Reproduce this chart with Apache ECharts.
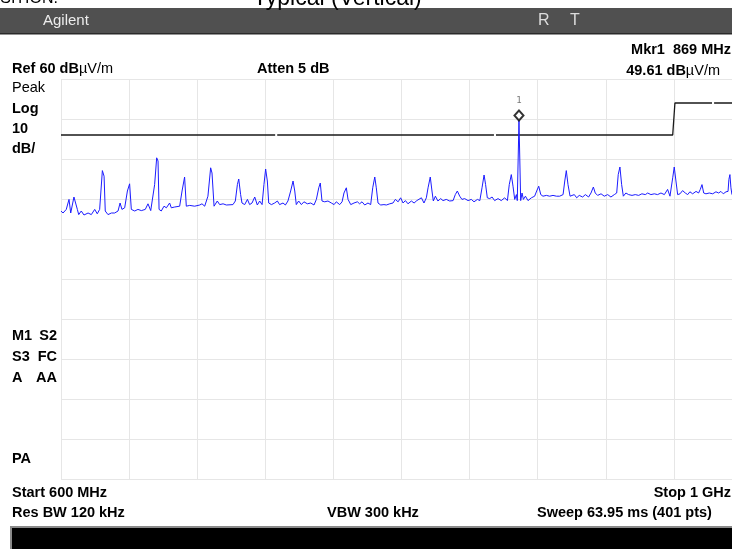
<!DOCTYPE html>
<html><head><meta charset="utf-8">
<script src="https://cdn.jsdelivr.net/npm/echarts@6/dist/echarts.min.js"></script>
<style>html,body{margin:0;padding:0;background:#fff;overflow:hidden}#c{width:732px;height:549px}</style>
</head><body><div id="c"></div>
<script>
// Frequency span (MHz) and amplitude scale (dBµV/m)
const startMHz = 600, stopMHz = 1000, freqStep = 40;
const refLevel = 60, bottomLevel = -40, dbPerDiv = 10;

// Measured trace: [frequency MHz, level dBµV/m]
const trace = [
[600,27.0],[601.2,26.5],[603.1,27.4],[604.7,29.9],[605.7,26.5],[606.5,26.1],[607.6,30.5],[608.4,30.7],[609.6,27.4],[610.4,26.1],
[611.9,27.0],[613.5,26.0],[615.9,26.5],[617.8,26.1],[619.8,27.4],[621.3,26.3],[622.7,27.4],[624.3,37.1],[625.3,35.7],[626.0,27.0],
[627.6,26.1],[629.6,26.5],[631.5,26.5],[633.5,27.0],[634.7,29.0],[635.8,27.4],[637.4,27.8],[639.0,32.0],[640.3,33.8],[641.3,27.4],
[643.3,27.0],[645.2,27.4],[647.2,27.1],[649.5,27.4],[651.1,28.8],[652.7,27.1],[655.0,33.6],[656.2,40.3],[657.0,39.5],[657.6,27.4],
[658.9,27.0],[660.5,28.2],[661.9,27.8],[663.8,29.0],[664.8,27.8],[666.8,28.0],[669.7,28.2],[671.1,32.0],[672.6,35.5],[673.6,28.2],
[675.6,28.4],[678.5,28.2],[681.5,28.5],[682.8,28.8],[684.4,28.2],[686.3,30.7],[687.9,37.8],[688.7,36.5],[689.9,28.2],[691.8,29.5],
[693.2,28.6],[695.2,28.8],[697.1,28.5],[698.1,28.6],[701.0,28.6],[702.4,29.5],[703.6,33.6],[704.4,35.0],[705.5,31.1],[706.3,29.0],
[707.9,28.6],[709.5,29.9],[710.8,28.6],[712.2,29.0],[713.8,30.5],[715.3,28.5],[716.7,29.5],[718.1,28.6],[719.2,33.6],[720.2,37.5],
[721.2,34.5],[722.0,29.0],[723.6,28.6],[725.5,29.0],[727.1,29.5],[728.4,28.6],[730.4,29.0],[731.8,28.5],[733.3,29.5],[734.9,32.0],
[736.3,34.5],[737.3,32.0],[738.2,28.6],[739.6,29.5],[741.2,28.6],[742.7,29.3],[744.7,28.8],[746.7,29.0],[748.6,28.5],[750.0,29.9],
[751.4,32.8],[752.3,34.0],[753.3,29.5],[754.9,29.3],[756.8,29.5],[758.8,29.0],[760.4,28.6],[761.7,29.3],[763.7,28.6],[765.1,29.3],
[766.2,31.5],[767.6,32.8],[768.6,29.9],[770.2,28.6],[772.1,29.0],[774.1,29.3],[775.4,28.8],[776.8,29.3],[778.4,28.5],[780.3,29.0],
[781.9,28.6],[783.1,32.8],[784.3,35.5],[785.2,32.8],[786.2,29.0],[787.8,28.5],[789.7,28.6],[791.1,28.5],[793.1,28.8],[795.0,29.0],
[796.4,29.9],[798.0,29.3],[799.5,30.3],[800.9,29.0],[802.3,29.6],[803.8,28.8],[805.8,29.5],[807.4,29.0],[809.0,29.6],[810.1,29.3],
[811.7,30.3],[813.2,29.0],[814.6,30.3],[815.6,32.8],[816.9,35.5],[817.9,32.0],[818.7,29.5],[819.9,30.7],[821.4,29.5],[823.0,30.1],
[824.4,29.6],[826.3,29.9],[828.3,29.5],[830.3,29.6],[831.6,31.1],[832.8,32.0],[834.2,30.7],[835.5,29.9],[837.1,30.1],[839.1,29.6],
[841.0,29.9],[842.6,29.3],[844.6,29.9],[846.0,29.6],[847.3,32.8],[848.5,36.0],[849.4,33.6],[850.4,30.3],[851.8,30.1],[853.2,30.5],
[854.7,29.6],[856.7,30.1],[858.6,29.6],[860.6,30.3],[862.2,29.6],[863.3,33.6],[864.5,36.1],[865.5,33.2],[866.5,29.9],[867.5,31.1],
[868.0,29.6],[869.0,49.61],[870.0,29.6],[870.8,31.5],[871.6,29.9],[872.8,30.7],[874.3,29.6],[876.3,30.3],[878.2,30.7],[879.4,32.0],
[880.6,33.2],[881.8,31.1],[883.1,30.7],[885.1,30.9],[887.0,30.7],[889.0,30.9],[891.0,30.7],[892.9,30.7],[894.9,31.1],[895.9,34.5],
[896.8,37.1],[897.8,33.6],[899.0,30.7],[901.5,31.1],[902.9,30.3],[904.4,30.9],[906.4,30.5],[908.0,31.1],[909.9,30.5],[911.3,31.5],
[912.7,33.0],[913.8,31.5],[915.2,30.9],[917.2,31.3],[919.1,30.7],[921.1,31.1],[923.0,30.5],[925.0,31.1],[926.4,31.5],[927.3,36.1],
[928.3,38.0],[929.3,33.6],[930.3,30.7],[931.8,31.5],[933.4,31.1],[935.4,30.9],[937.3,31.1],[939.3,30.9],[941.2,31.3],[943.2,31.1],
[944.6,31.5],[946.5,31.1],[948.5,31.3],[950.4,31.1],[952.4,31.5],[954.4,31.1],[956.3,32.4],[957.7,30.7],[959.3,35.3],[960.2,38.0],
[961.2,34.5],[962.2,31.1],[963.6,31.3],[965.1,32.1],[966.7,31.5],[968.1,31.1],[969.4,31.8],[971.0,31.3],[973.0,31.9],[974.5,31.5],
[975.5,32.4],[976.5,33.6],[977.5,31.5],[978.8,31.3],[980.8,31.5],[982.8,31.3],[984.7,31.8],[986.3,31.5],[987.6,31.9],[989.0,31.3],
[990.6,31.8],[991.8,31.9],[992.3,34.9],[992.9,36.1],[993.5,32.8],[994.1,31.1],[996.0,31.4],[998.0,31.2],[1000,31.6]
];

// Limit line: 46 dBµV/m up to 960 MHz, 54 above; '-' = small gaps in the drawn line
const limitLine = [
[600,46],[725.8,46],[726.4,'-'],[727.0,46],[854.3,46],[854.9,'-'],[855.5,46],[959.3,46],[960.6,54],[982.4,54],[983.0,'-'],[983.6,54],[1000,54]
];

// Marker 1
const markerPoint = [[869, 49.61]];
const markerLabel = '1';

const B = 'bold 14.5px "Liberation Sans", Arial, sans-serif';
const N = '14.5px "Liberation Sans", Arial, sans-serif';

function txt(text, x, y, font, align) {
  return { type: 'text', z: 10, style: { text: text, x: x, y: y, font: font || B, fill: '#000', align: align || 'left', verticalAlign: 'middle' } };
}

const chart = echarts.init(document.getElementById('c'), null, { renderer: 'canvas' });
chart.setOption({
  animation: false,
  backgroundColor: '#fff',
  grid: { left: 61, top: 79, width: 681, height: 400, show: false, outerBoundsMode: 'none', containLabel: false },
  xAxis: {
    type: 'value', min: startMHz, max: stopMHz, interval: freqStep,
    axisLine: { show: false }, axisTick: { show: false }, axisLabel: { show: false },
    splitLine: { show: true, lineStyle: { color: '#e6e6e6', width: 1 } }
  },
  yAxis: {
    type: 'value', min: bottomLevel, max: refLevel, interval: dbPerDiv,
    axisLine: { show: false }, axisTick: { show: false }, axisLabel: { show: false },
    splitLine: { show: true, lineStyle: { color: '#e6e6e6', width: 1 } }
  },
  series: [
    { type: 'line', data: limitLine, symbol: 'none', connectNulls: false,
      lineStyle: { color: '#1a1a1a', width: 1.3 }, z: 2 },
    { type: 'line', data: trace, symbol: 'none',
      lineStyle: { color: '#1c1cff', width: 1 }, z: 3 },
    { type: 'scatter', data: markerPoint, symbol: 'diamond', symbolSize: [9, 10], symbolOffset: [0, -5],
      itemStyle: { color: '#fff', borderColor: '#000', borderWidth: 2 }, z: 5,
      label: { show: true, position: 'top', distance: 4, formatter: markerLabel,
        fontSize: 9, color: '#555', fontFamily: '"DejaVu Sans Mono", monospace' } }
  ],
  graphic: [
    // top header strip text (cut off at top)
    txt('POSITION:', 58, -1, '16px "Liberation Sans", Arial, sans-serif', 'right'),
    txt('Typical (Vertical)', 253, -1.5, '23px "Liberation Sans", Arial, sans-serif', 'left'),
    // title bar
    { type: 'rect', shape: { x: 0, y: 8, width: 732, height: 26 }, style: { fill: '#505050' }, z: 5 },
    { type: 'rect', shape: { x: 0, y: 33, width: 732, height: 1.5 }, style: { fill: '#2a2a2a' }, z: 6 },
    { type: 'group', x: 26, y: 21, z: 7, children: [
      { type: 'line', shape: { x1: -6, y1: 0, x2: 6, y2: 0 }, style: { stroke: '#7a6cff', lineWidth: 1.2 } },
      { type: 'line', shape: { x1: 0, y1: -6, x2: 0, y2: 6 }, style: { stroke: '#7a6cff', lineWidth: 1.2 } },
      { type: 'line', shape: { x1: -4, y1: -4, x2: 4, y2: 4 }, style: { stroke: '#5a5aff', lineWidth: 1 } },
      { type: 'line', shape: { x1: -4, y1: 4, x2: 4, y2: -4 }, style: { stroke: '#5a5aff', lineWidth: 1 } }
    ]},
    { type: 'text', z: 10, style: { text: 'Agilent', x: 43, y: 21, font: '15px "Liberation Sans", Arial, sans-serif', fill: '#ececec', verticalAlign: 'middle' } },
    { type: 'text', z: 10, style: { text: 'R', x: 538, y: 21, font: '16px "Liberation Sans", Arial, sans-serif', fill: '#dcdcdc', verticalAlign: 'middle' } },
    { type: 'text', z: 10, style: { text: 'T', x: 570, y: 21, font: '16px "Liberation Sans", Arial, sans-serif', fill: '#dcdcdc', verticalAlign: 'middle' } },
    // annotation texts
    { type: 'text', z: 10, style: { text: '{b|Ref 60 dB}{n|µV/m}', x: 12, y: 69, verticalAlign: 'middle',
        rich: { b: { font: B, fill: '#000' }, n: { font: N, fill: '#000' } } } },
    txt('Atten 5 dB', 257, 69),
    txt('Mkr1  869 MHz', 731, 50, B, 'right'),
    { type: 'text', z: 10, style: { text: '{b|49.61 dB}{n|µV/m}', x: 720, y: 71, align: 'right', verticalAlign: 'middle',
        rich: { b: { font: B, fill: '#000' }, n: { font: N, fill: '#000' } } } },
    txt('Peak', 12, 88, N),
    txt('Log', 12, 109),
    txt('10', 12, 129),
    txt('dB/', 12, 149),
    txt('M1', 12, 336), txt('S2', 57, 336, B, 'right'),
    txt('S3', 12, 357), txt('FC', 57, 357, B, 'right'),
    txt('A', 12, 378), txt('AA', 57, 378, B, 'right'),
    txt('PA', 12, 459),
    txt('Start 600 MHz', 12, 493),
    txt('Stop 1 GHz', 731, 493, B, 'right'),
    txt('Res BW 120 kHz', 12, 513),
    txt('VBW 300 kHz', 327, 513),
    txt('Sweep 63.95 ms (401 pts)', 537, 513),
    // bottom bar
    { type: 'rect', shape: { x: 10, y: 526, width: 722, height: 23 }, style: { fill: '#8a8a8a' }, z: 5 },
    { type: 'rect', shape: { x: 12, y: 528, width: 720, height: 21 }, style: { fill: '#000' }, z: 6 }
  ]
});
</script>
</body></html>
